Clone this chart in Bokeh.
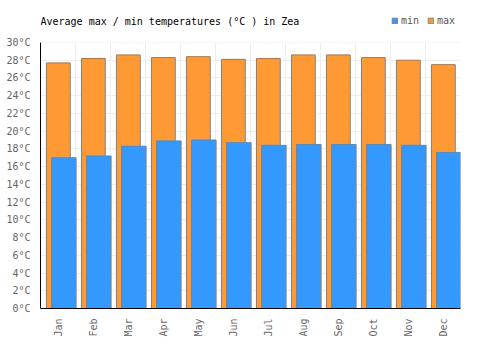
import numpy as np
from bokeh.plotting import figure
from bokeh.models import (FixedTicker, Range1d, Legend, LegendItem, ColumnDataSource,
                          BoxAnnotation, Label)
from bokeh.embed import file_html
from bokeh.resources import INLINE

months = ["Jan", "Feb", "Mar", "Apr", "May", "Jun", "Jul", "Aug", "Sep", "Oct", "Nov", "Dec"]
t_max = [27.7, 28.2, 28.6, 28.3, 28.4, 28.1, 28.2, 28.6, 28.6, 28.3, 28.0, 27.5]
t_min = [17.0, 17.2, 18.3, 18.9, 19.0, 18.7, 18.4, 18.5, 18.5, 18.5, 18.4, 17.6]
y_ticks = list(range(0, 31, 2))
title_text = "Average max / min temperatures (°C ) in Zea"

idx = np.arange(len(months))
src = ColumnDataSource(dict(month=months, idx=idx, tmax=t_max, tmin=t_min,
                            xmax=idx + 0.51, xmin=idx + 0.667))

FONT = "DejaVu Sans Mono"
Y_TOP = 30 * 308 / 266  # frame extends to top of canvas; 30°C sits at y=42px
p = figure(width=500, height=350, output_backend="svg", toolbar_location=None,
           x_range=Range1d(0, 12), y_range=Range1d(0, Y_TOP),
           min_border_left=40, min_border_right=40, min_border_top=0, min_border_bottom=42)
p.outline_line_color = None
p.background_fill_color = "white"
p.border_fill_color = "white"

r_max = p.vbar(x="xmax", top="tmax", bottom=0, width=0.68, source=src,
               fill_color="#ff9933", line_color="#808080", line_width=1)
r_min = p.vbar(x="xmin", top="tmin", bottom=0, width=0.70, source=src,
               fill_color="#3399ff", line_color="#808080", line_width=1)

# axes
p.xaxis.ticker = FixedTicker(ticks=[i + 0.5 for i in range(12)])
p.xaxis.major_label_overrides = {i + 0.5: m for i, m in enumerate(months)}
p.xaxis.major_label_orientation = np.pi / 2
p.yaxis.ticker = FixedTicker(ticks=y_ticks)
p.yaxis.major_label_overrides = {v: f"{v}°C" for v in y_ticks}
p.yaxis.bounds = (0, 30)
for ax in (p.xaxis[0], p.yaxis[0]):
    ax.axis_line_color = "black"
    ax.axis_line_width = 1
    ax.major_tick_line_color = None
    ax.minor_tick_line_color = None
    ax.major_label_text_font = FONT
    ax.major_label_text_font_size = "10px"
    ax.major_label_text_color = "#666666"
    ax.major_label_standoff = 4

p.xgrid.ticker = FixedTicker(ticks=list(range(13)))
p.xgrid.grid_line_color = "#eeeeee"
p.ygrid.grid_line_color = "#eeeeee"

# blank out the area above 30°C (header zone)
p.add_layout(BoxAnnotation(bottom=30, fill_color="white", fill_alpha=1, line_color=None))

p.add_layout(Label(x=0, y=308 - 21, x_units="screen", y_units="screen", text=title_text,
                   text_font=FONT, text_font_size="10px", text_color="#000000",
                   text_baseline="middle", text_align="left"))

legend = Legend(items=[LegendItem(label="min", renderers=[r_min]),
                       LegendItem(label="max", renderers=[r_max])],
                location=(351, 282), orientation="horizontal",
                glyph_width=7, glyph_height=7, label_standoff=3, spacing=6,
                padding=0, margin=0, border_line_color=None, background_fill_alpha=0,
                label_text_font=FONT, label_text_font_size="10px",
                label_text_color="#555555", label_height=10)
p.add_layout(legend)

open("out.html", "w").write(file_html(p, INLINE))
